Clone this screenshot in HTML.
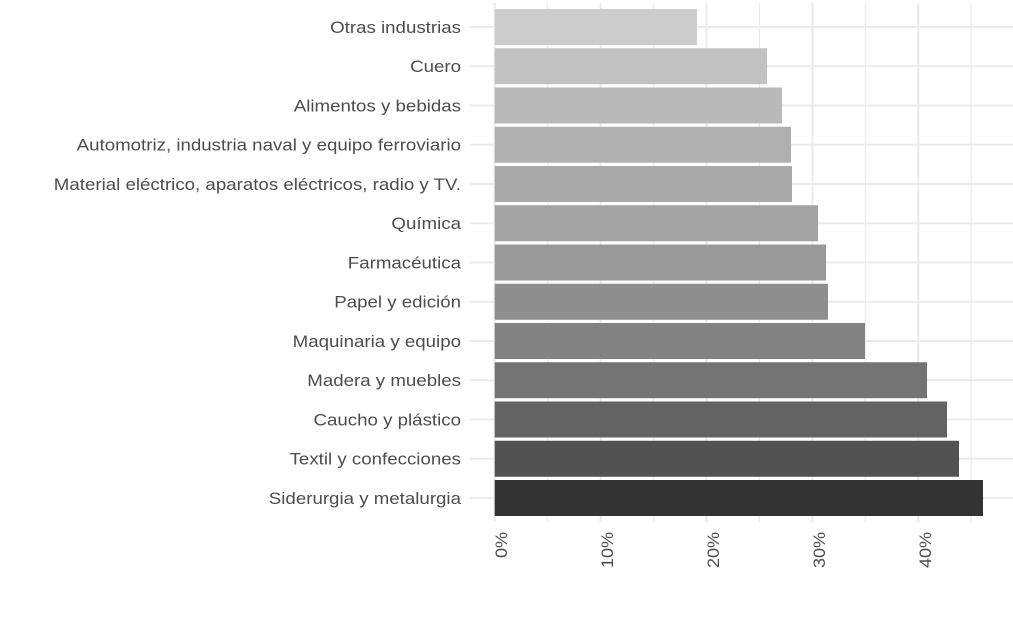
<!DOCTYPE html>
<html><head><meta charset="utf-8"><style>body{margin:0;background:#fff}</style></head><body>
<svg width="1013" height="615" xmlns="http://www.w3.org/2000/svg" font-family="Liberation Sans, sans-serif">
<g stroke="#ebebeb" stroke-width="1.2">
<line x1="547.6" y1="3" x2="547.6" y2="522"/><line x1="653.5" y1="3" x2="653.5" y2="522"/><line x1="759.4" y1="3" x2="759.4" y2="522"/><line x1="865.3" y1="3" x2="865.3" y2="522"/><line x1="971.2" y1="3" x2="971.2" y2="522"/>
</g>
<g stroke="#ebebeb" stroke-width="2">
<line x1="494.7" y1="3" x2="494.7" y2="522"/><line x1="600.6" y1="3" x2="600.6" y2="522"/><line x1="706.5" y1="3" x2="706.5" y2="522"/><line x1="812.4" y1="3" x2="812.4" y2="522"/><line x1="918.3" y1="3" x2="918.3" y2="522"/>
</g>
<g id="h" stroke="#ebebeb" stroke-width="2"></g>
<g id="b"></g>
<g transform="translate(461,0) scale(1.1,1) translate(-461,0)"><g id="l" fill="#4d4d4d" font-size="17" text-anchor="end"></g></g>
<g fill="#4d4d4d" font-size="17" text-anchor="end">
<text transform="translate(507,532) rotate(-90) scale(1.06,1)">0%</text>
<text transform="translate(613,532) rotate(-90) scale(1.06,1)">10%</text>
<text transform="translate(719,532) rotate(-90) scale(1.06,1)">20%</text>
<text transform="translate(825,532) rotate(-90) scale(1.06,1)">30%</text>
<text transform="translate(931,532) rotate(-90) scale(1.06,1)">40%</text>
</g>
</svg>
<script>
var d=[["Otras industrias",697],["Cuero",767],["Alimentos y bebidas",782],["Automotriz, industria naval y equipo ferroviario",791],["Material eléctrico, aparatos eléctricos, radio y TV.",792],["Química",818],["Farmacéutica",826],["Papel y edición",828],["Maquinaria y equipo",865],["Madera y muebles",927],["Caucho y plástico",947],["Textil y confecciones",959],["Siderurgia y metalurgia",983]];
var g=[204,194,185,176,170,163,153,142,130,116,99,82,51];
var ns="http://www.w3.org/2000/svg";
function el(t,a,p,tx){var e=document.createElementNS(ns,t);for(var k in a)e.setAttribute(k,a[k]);if(tx)e.textContent=tx;document.getElementById(p).appendChild(e);}
d.forEach(function(r,i){var top=9+i*39.25,c=g[i];
el("line",{x1:470,x2:1013,y1:top+18,y2:top+18},"h");
el("rect",{x:494.7,y:top,width:r[1]-494.7,height:36,fill:"rgb("+c+","+c+","+c+")"},"b");
el("text",{x:461,y:top+24},"l",r[0]);});
</script>
</body></html>
